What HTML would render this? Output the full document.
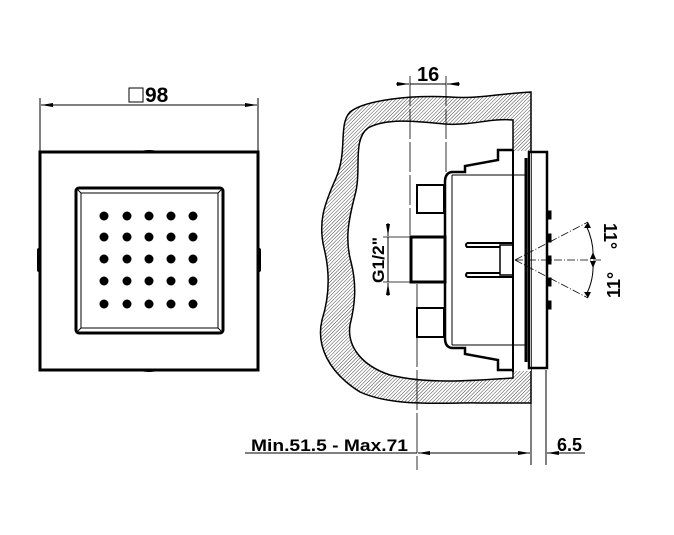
<!DOCTYPE html>
<html><head><meta charset="utf-8"><style>html,body{margin:0;padding:0;background:#fff}svg{display:block}text{font-family:"Liberation Sans",Arial,sans-serif;fill:#000}</style></head>
<body>
<svg width="674" height="535" viewBox="0 0 674 535" xmlns="http://www.w3.org/2000/svg">
<defs>
<pattern id="h" width="2.5" height="2.5" patternUnits="userSpaceOnUse" patternTransform="rotate(45)">
<rect width="2.5" height="2.5" fill="#fff"/><line x1="0" y1="0" x2="0" y2="2.5" stroke="#444" stroke-width="1"/></pattern>
<marker id="a" markerWidth="12" markerHeight="6" refX="12" refY="3" orient="auto" markerUnits="userSpaceOnUse"><path d="M0,1 L12,3 L0,5Z" fill="#000"/></marker>
</defs>
<!-- LEFT VIEW -->
<g stroke="#000" fill="none">
<line x1="40" y1="98" x2="40" y2="152" stroke-width="1"/>
<line x1="258" y1="98" x2="258" y2="152" stroke-width="1"/>
<line x1="60" y1="105" x2="41" y2="105" marker-end="url(#a)"/>
<line x1="60" y1="105" x2="238" y2="105"/>
<line x1="238" y1="105" x2="257" y2="105" marker-end="url(#a)"/>
<rect x="129" y="88" width="14" height="14" stroke-width="1"/>
<rect x="40" y="152" width="218" height="218" stroke-width="3"/>
<rect x="76" y="188" width="147" height="145" rx="3" stroke-width="3"/>
<rect x="81" y="193" width="137" height="135" stroke-width="1"/>
<line x1="76" y1="188" x2="81" y2="193" stroke-width="1"/><line x1="223" y1="188" x2="218" y2="193" stroke-width="1"/>
<line x1="76" y1="333" x2="81" y2="328" stroke-width="1"/><line x1="223" y1="333" x2="218" y2="328" stroke-width="1"/>
</g>
<path d="M137,152 Q149,148 161,152Z M137,370 Q149,374 161,370Z" fill="#000"/>
<rect x="37" y="248" width="4" height="24" rx="2" fill="#000"/>
<rect x="257" y="248" width="4" height="24" rx="2" fill="#000"/>
<text x="145" y="102" font-size="21" font-weight="bold">98</text>
<g fill="#000">
<circle cx="104" cy="216" r="4.5"/><circle cx="127" cy="216" r="4.5"/><circle cx="149" cy="216" r="4.5"/><circle cx="171" cy="216" r="4.5"/><circle cx="193" cy="216" r="4.5"/>
<circle cx="104" cy="237" r="4.5"/><circle cx="127" cy="237" r="4.5"/><circle cx="149" cy="237" r="4.5"/><circle cx="171" cy="237" r="4.5"/><circle cx="193" cy="237" r="4.5"/>
<circle cx="104" cy="259" r="4.5"/><circle cx="127" cy="259" r="4.5"/><circle cx="149" cy="259" r="4.5"/><circle cx="171" cy="259" r="4.5"/><circle cx="193" cy="259" r="4.5"/>
<circle cx="104" cy="281" r="4.5"/><circle cx="127" cy="281" r="4.5"/><circle cx="149" cy="281" r="4.5"/><circle cx="171" cy="281" r="4.5"/><circle cx="193" cy="281" r="4.5"/>
<circle cx="104" cy="304" r="4.5"/><circle cx="127" cy="304" r="4.5"/><circle cx="149" cy="304" r="4.5"/><circle cx="171" cy="304" r="4.5"/><circle cx="193" cy="304" r="4.5"/>
</g>
<!-- RIGHT VIEW: wall -->
<path fill="url(#h)" stroke="#000" stroke-width="1.5" fill-rule="evenodd"
d="M531,92 C495,94 480,99 450,97 C410,95 365,100 350,112 C338,125 348,150 336,178 C324,205 318,222 324,248 C330,272 330,295 322,320 C316,345 328,372 360,392 C395,408 450,402 480,403 L531,403 Z
M513,120 C490,118 470,126 445,124 C415,121 385,118 368,128 C352,140 362,170 355,195 C348,222 345,240 351,262 C357,285 355,305 350,325 C347,345 360,365 390,375 C430,385 480,380 513,378 Z"/>
<rect x="497" y="151" width="34" height="220" fill="#fff"/>
<g stroke="#000" fill="none">
<rect x="529" y="152" width="18" height="216" stroke-width="2.5"/>
<line x1="513" y1="150" x2="513" y2="372" stroke-width="2"/>
<line x1="526" y1="158" x2="526" y2="362" stroke-width="3"/>
<path d="M513,150 L498,150 L498,160 L465,166 L465,172 L453,172 Q445,172 445,182 L445,338 Q445,348 453,348 L465,348 L465,354 L498,360 L498,370 L513,370" stroke-width="2.5"/>
<line x1="452" y1="175" x2="526" y2="175" stroke-width="1"/>
<line x1="452" y1="345" x2="526" y2="345" stroke-width="1"/>
<line x1="452" y1="175" x2="452" y2="345" stroke-width="1"/>
<rect x="417" y="185" width="27" height="28" stroke-width="2"/>
<rect x="417" y="308" width="27" height="29" stroke-width="2"/>
<rect x="411" y="237" width="34" height="45" stroke-width="3"/>
<path d="M467,243 L513,243 M467,277 L513,277 M467,243 Q465,245 467,247 L500,247 M467,277 Q465,275 467,273 L500,273" stroke-width="2"/>
<rect x="500" y="245" width="13" height="30" stroke-width="1.5"/>
<rect x="547" y="211" width="4" height="8" fill="#000"/>
<rect x="547" y="234" width="4" height="8" fill="#000"/>
<rect x="547" y="256" width="4" height="8" fill="#000"/>
<rect x="547" y="278" width="4" height="8" fill="#000"/>
<rect x="547" y="301" width="4" height="8" fill="#000"/>
<line x1="515" y1="260" x2="588" y2="222" stroke-width="0.8" stroke-dasharray="8,2,1,2"/>
<line x1="515" y1="260" x2="588" y2="298" stroke-width="0.8" stroke-dasharray="8,2,1,2"/>
<line x1="515" y1="260" x2="602" y2="260" stroke-width="0.8" stroke-dasharray="8,2,1,2"/>
<path d="M586,225 Q594,242 593,258" stroke-width="1"/>
<path d="M593,262 Q594,280 586,295" stroke-width="1"/>
<line x1="410" y1="76" x2="410" y2="235" stroke-width="0.8" stroke-dasharray="30,3"/>
<line x1="446" y1="76" x2="446" y2="172" stroke-width="0.8" stroke-dasharray="30,3"/>
<line x1="417" y1="284" x2="417" y2="470" stroke-width="0.8" stroke-dasharray="40,3"/>
<line x1="396" y1="84" x2="409" y2="84" marker-end="url(#a)"/>
<line x1="410" y1="84" x2="446" y2="84"/>
<line x1="460" y1="84" x2="447" y2="84" marker-end="url(#a)"/>
<line x1="383" y1="237" x2="410" y2="237" stroke-width="0.8"/>
<line x1="383" y1="282" x2="410" y2="282" stroke-width="0.8"/>
<line x1="388" y1="223" x2="388" y2="236" marker-end="url(#a)"/>
<line x1="388" y1="237" x2="388" y2="282"/>
<line x1="388" y1="296" x2="388" y2="283" marker-end="url(#a)"/>
<line x1="531" y1="403" x2="531" y2="465" stroke-width="1"/>
<line x1="546" y1="370" x2="546" y2="465" stroke-width="1"/>
<line x1="245" y1="453" x2="417" y2="453"/>
<line x1="431" y1="453" x2="418" y2="453" marker-end="url(#a)"/>
<line x1="430" y1="453" x2="530" y2="453" marker-end="url(#a)"/>
<line x1="560" y1="453" x2="547" y2="453" marker-end="url(#a)"/>
<line x1="560" y1="453" x2="585" y2="453"/>
</g>
<path d="M588,222 l-4,6 l7,0Z M588,298 l-4,-6 l7,0Z M593,252 l-3,7 l6,0Z M593,268 l-3,-7 l6,0Z" fill="#000"/>
<text x="417" y="81" font-size="20" font-weight="bold">16</text>
<text x="251" y="451" font-size="17" font-weight="bold" textLength="157" lengthAdjust="spacingAndGlyphs">Min.51.5 - Max.71</text>
<text x="557" y="451" font-size="18" font-weight="bold">6.5</text>
<text transform="translate(384,283) rotate(-90)" font-size="17" font-weight="bold" textLength="46" lengthAdjust="spacingAndGlyphs">G1/2"</text>
<text transform="translate(604,223) rotate(90)" font-size="18" font-weight="bold">11°</text>
<text transform="translate(620,298) rotate(-90)" font-size="18" font-weight="bold">11°</text>
</svg>
</body></html>
